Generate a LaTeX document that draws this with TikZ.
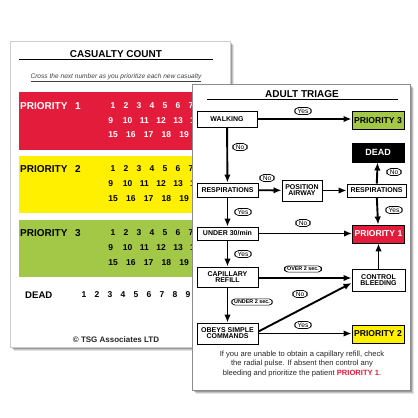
\documentclass[tikz,border=0pt]{standalone}
\usepackage{fontspec}
\setmainfont{Liberation Sans}
\usetikzlibrary{arrows.meta,calc}
\definecolor{pred}{RGB}{226,28,58}
\definecolor{pyel}{RGB}{255,240,0}
\definecolor{pgrn}{RGB}{163,200,72}
\newcommand{\myfs}[1]{\fontsize{#1}{#1}\selectfont}
\tikzset{
  box/.style={draw, line width=0.9pt, fill=white, font=\bfseries\myfs{7}, align=center, inner sep=0pt},
  pbox/.style={draw, line width=0.9pt, font=\bfseries\myfs{8.6}, inner sep=0pt, minimum width=52pt, minimum height=18pt},
  lab/.style={draw, rounded corners=4pt, line width=0.7pt, fill=white, font=\myfs{6.6}, inner xsep=3pt, inner ysep=1.2pt},
  slab/.style={lab, font=\bfseries\myfs{5.4}, inner xsep=2.5pt, rounded corners=3.5pt},
  arr/.style={-{Latex[length=8pt,width=6.5pt]}, line width=1.9pt},
  num/.style={font=\bfseries\myfs{8.5}, inner sep=0pt},
  prio/.style={font=\bfseries\myfs{10}, inner sep=0pt, anchor=west},
}
\begin{document}
\begin{tikzpicture}[x=1pt,y=-1pt]
\useasboundingbox (0,0) rectangle (418,418);
\fill[white] (0,0) rectangle (418,418);
% ---------- left card ----------
\foreach \d/\o in {4/0.10,3/0.15,2/0.2,1/0.25}
  \fill[black, opacity=\o] (10+\d,41+\d) rectangle (230+\d,347+\d);
\draw[black!20, fill=white, line width=0.5pt] (10,41) rectangle (230,347);
\node[font=\bfseries\myfs{10}, inner sep=0pt] (cctitle) at (116,54) {CASUALTY COUNT};
\draw[line width=0.8pt] (19,59.5) -- (213,59.5);
\node[font=\itshape\myfs{6.6}, inner sep=0pt, text=black!75] (ccsub) at (116,78) {\underline{Cross the next number as you prioritize each new casualty}};
\fill[pred] (19,92) rectangle (214,150);
\fill[pyel] (19,156) rectangle (214,213);
\fill[pgrn] (19,220) rectangle (214,277);
% priority 1
\node[prio, text=white] (lp1) at (20,106) {PRIORITY};
\node[prio, text=white] (lp1n) at (75,106) {1};
\foreach \n [count=\i] in {1,...,7} \node[num, text=white] (ra\i) at ({100+13*\i},106) {\n};
\foreach \n [count=\i] in {9,...,14} \node[num, text=white] (rb\i) at ({94+16.8*\i},120.5) {\n};
\foreach \n [count=\i] in {15,...,19} \node[num, text=white] (rc\i) at ({95.3+17.75*\i},135) {\n};
% priority 2
\node[prio] (lp2) at (20,169) {PRIORITY};
\node[prio] (lp2n) at (75,169) {2};
\foreach \n [count=\i] in {1,...,7} \node[num] (ya\i) at ({100+13*\i},169) {\n};
\foreach \n [count=\i] in {9,...,14} \node[num] (yb\i) at ({94+16.8*\i},184) {\n};
\foreach \n [count=\i] in {15,...,19} \node[num] (yc\i) at ({95.3+17.75*\i},199) {\n};
% priority 3
\node[prio] (lp3) at (20,233) {PRIORITY};
\node[prio] (lp3n) at (75,233) {3};
\foreach \n [count=\i] in {1,...,7} \node[num] (ga\i) at ({100+13*\i},233) {\n};
\foreach \n [count=\i] in {9,...,14} \node[num] (gb\i) at ({94+16.8*\i},248) {\n};
\foreach \n [count=\i] in {15,...,19} \node[num] (gc\i) at ({95.3+17.75*\i},263) {\n};
% dead
\node[prio, font=\bfseries\myfs{9.6}] (ldead) at (25,295) {DEAD};
\foreach \n [count=\i] in {1,...,9} \node[num] (da\i) at ({71+13*\i},295) {\n};
\node[font=\bfseries\myfs{8}, inner sep=0pt, text=black!85] (copy) at (116,340) {© TSG Associates LTD};
% ---------- right card ----------
\foreach \d/\o in {4/0.10,3/0.15,2/0.2,1/0.25}
  \fill[black, opacity=\o] (192+\d,84+\d) rectangle (410+\d,390+\d);
\draw[black!45, fill=white, line width=0.6pt] (192,84) rectangle (410,390);
\node[font=\bfseries\myfs{10}, inner sep=0pt] (attitle) at (302,94) {ADULT TRIAGE};
\draw[line width=0.8pt] (207,99.5) -- (398,99.5);
% boxes
\node[box, minimum width=60pt, minimum height=16pt] (walk) at (227,119) {WALKING};
\node[box, minimum width=61pt, minimum height=14pt] (respl) at (227.5,190) {RESPIRATIONS};
\node[box, minimum width=40pt, minimum height=21pt] (pos) at (302,190.5) {POSITION\\[-1pt]AIRWAY};
\node[box, minimum width=59pt, minimum height=13pt] (respr) at (376.5,190.5) {RESPIRATIONS};
\node[box, minimum width=61pt, minimum height=13pt] (under) at (227.5,233.5) {UNDER 30/min};
\node[box, minimum width=61pt, minimum height=20pt] (cap) at (227.5,277) {CAPILLARY\\[-1pt]REFILL};
\node[box, minimum width=61pt, minimum height=21pt] (obey) at (227.5,333.5) {OBEYS SIMPLE\\[-1pt]COMMANDS};
\node[box, minimum width=53pt, minimum height=22pt] (ctrl) at (378.5,280) {CONTROL\\[-1pt]BLEEDING};
\node[pbox, fill=pgrn] (p3) at (378,120.5) {PRIORITY 3};
\node[pbox, fill=black, text=white, minimum height=19pt, font=\bfseries\myfs{9}] (dead) at (378,152.5) {DEAD};
\node[pbox, fill=pred, text=white] (p1) at (378.5,234) {PRIORITY 1};
\node[pbox, fill=pyel] (p2) at (378,334) {PRIORITY 2};
% arrows
\draw[arr] (walk.east) -- (walk.east -| p3.west);
\draw[arr] (walk) -- (respl);
\draw[arr] (respl) -- (pos);
\draw[arr] (pos) -- (respr);
\draw[arr] (respr) -- (dead);
\draw[arr] (respr) -- (p1);
\draw[arr] (under.east) -- (under.east -| p1.west);
\draw[arr] (respl) -- (under);
\draw[arr] (under) -- (cap);
\draw[arr] ($(cap.east)+(0,1)$) -- ($(cap.east -| ctrl.west)+(0,1)$);
\draw[arr] (ctrl) -- (p1);
\draw[arr] (cap) -- (obey);
\draw[arr] ($(obey.east)+(0,-2)$) -- ($(ctrl.west)+(0,3)$);
\draw[arr] (obey.east) -- (obey.east -| p2.west);
% labels
\node[lab] (l1) at (303,111) {Yes};
\node[lab] (l2) at (240,147) {No};
\node[lab] (l3) at (394,172) {No};
\node[lab] (l4) at (267,178) {No};
\node[lab] (l5) at (394,210) {Yes};
\node[lab] (l6) at (243,212) {Yes};
\node[lab] (l7) at (303,223) {No};
\node[lab] (l8) at (243,254) {Yes};
\node[slab] (l9) at (303,269) {OVER 2 sec.};
\node[slab] (l10) at (252,302) {UNDER 2 sec.};
\node[lab] (l11) at (300,294) {No};
\node[lab] (l12) at (303,325) {Yes};
% note
\node[font=\myfs{7.6}, align=center, inner sep=0pt, text=black!85] (note) at (302,364) {If you are unable to obtain a capillary refill, check\\[2pt]the radial pulse. If absent then control any\\[2pt]bleeding and prioritize the patient {\bfseries\color{pred}PRIORITY 1}.};
\end{tikzpicture}
\end{document}
